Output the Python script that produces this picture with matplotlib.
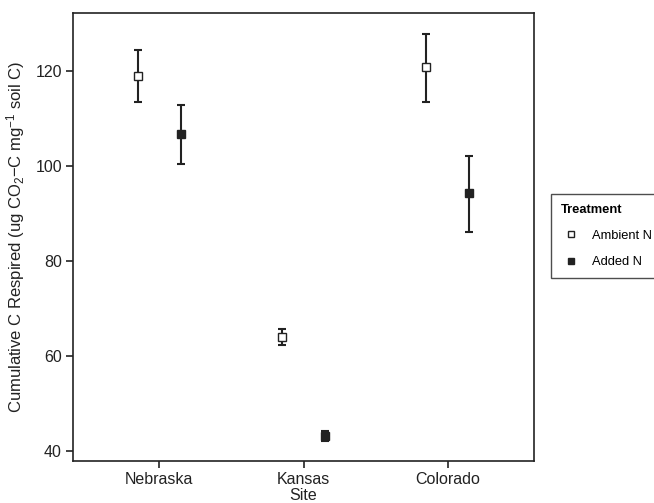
import matplotlib
matplotlib.use("Agg")
import matplotlib.pyplot as plt
import numpy as np

sites = ["Nebraska", "Kansas", "Colorado"]
treatments = ["Ambient N", "Added N"]
ambient_mean = [118.9, 64.1, 120.8]
ambient_low = [113.4, 62.3, 113.5]
ambient_high = [124.4, 65.7, 127.8]
added_mean = [106.7, 43.2, 94.3]
added_low = [100.5, 42.2, 86.2]
added_high = [112.9, 44.2, 102.2]
yticks = [40, 60, 80, 100, 120]

plt.rcParams['font.family'] = ['Liberation Sans', 'DejaVu Sans']
plt.rcParams['mathtext.fontset'] = 'custom'
plt.rcParams['mathtext.rm'] = 'Liberation Sans'
plt.rcParams['mathtext.it'] = 'Liberation Sans:italic'
plt.rcParams['mathtext.bf'] = 'Liberation Sans:bold'

dark = '#222222'
fig = plt.figure(figsize=(6.54, 5.03), dpi=100)
ax = fig.add_axes([73/654, 42/503, (534-73)/654, (461-13)/503])

x = np.arange(1, len(sites) + 1)
dodge = 0.147

series = [
    (ambient_mean, ambient_low, ambient_high, 'white', treatments[0], -dodge),
    (added_mean, added_low, added_high, dark, treatments[1], dodge),
]
handles = []
for mean, low, high, fc, lab, off in series:
    mean = np.array(mean); low = np.array(low); high = np.array(high)
    ax.errorbar(x + off, mean, yerr=[mean - low, high - mean], fmt='none',
                ecolor=dark, elinewidth=1.5, capsize=2.6, capthick=1.5, zorder=2)
    h = ax.plot(x + off, mean, ls='none', marker='s', markersize=5.2,
                markerfacecolor=fc, markeredgecolor=dark, markeredgewidth=1.0,
                label=lab, zorder=3)[0]
    handles.append(h)

ax.set_xlim(0.4, 3.6)
ax.set_ylim(37.9, 132.2)
ax.set_xticks(x)
ax.set_xticklabels(sites)
ax.set_yticks(yticks)
ax.tick_params(axis='both', labelsize=11.5, length=5, width=1.2, color=dark,
               labelcolor=dark, direction='out', top=False, right=False, pad=3)
for s in ax.spines.values():
    s.set_color(dark)
    s.set_linewidth(1.2)

ax.set_xlabel("Site", fontsize=11.5, color=dark, labelpad=1)
ax.set_ylabel(r"Cumulative C Respired (ug CO$_2$−C mg$^{-1}$ soil C)", fontsize=12,
              color=dark, labelpad=6)

leg = fig.legend(handles=handles, labels=treatments, title="Treatment",
                 loc='upper left', bbox_to_anchor=(551/654, 1 - 194/503),
                 frameon=True, fancybox=False, fontsize=9.3, title_fontsize=9.3,
                 handlelength=1.6, handletextpad=0.8, borderpad=0.75,
                 labelspacing=1.1, markerscale=0.95, borderaxespad=0)
leg.get_frame().set_edgecolor(dark)
leg.get_frame().set_linewidth(1.0)
leg.get_title().set_fontweight('bold')
leg._legend_box.align = "left"

fig.savefig("out.png", dpi=100)
